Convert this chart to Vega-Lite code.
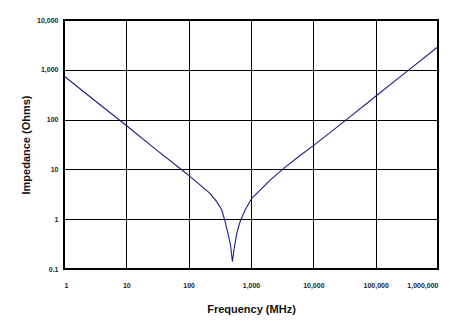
{
  "$schema": "https://vega.github.io/schema/vega-lite/v6.json",
  "autosize": "none",
  "width": 374,
  "height": 249,
  "padding": {"left": 64, "top": 20, "right": 33, "bottom": 56},
  "background": "white",
  "config": {
    "view": {"stroke": "black", "strokeWidth": 2},
    "axis": {"labelFont": "Liberation Sans", "titleFont": "Liberation Sans", "labelColor": "#222", "titleColor": "#111"}
  },
  "data": {
    "values": [
      {"f": 1, "z": 750},
      {"f": 3, "z": 250},
      {"f": 10, "z": 76},
      {"f": 30, "z": 25},
      {"f": 72.8, "z": 10.4},
      {"f": 93, "z": 8.2},
      {"f": 152, "z": 4.9},
      {"f": 220, "z": 3.3},
      {"f": 282, "z": 2.25},
      {"f": 340, "z": 1.53},
      {"f": 384, "z": 0.89},
      {"f": 434, "z": 0.48},
      {"f": 473, "z": 0.28},
      {"f": 503, "z": 0.14},
      {"f": 542, "z": 0.28},
      {"f": 591, "z": 0.52},
      {"f": 668, "z": 0.89},
      {"f": 804, "z": 1.53},
      {"f": 1030, "z": 2.63},
      {"f": 1400, "z": 3.85},
      {"f": 2027, "z": 6.1},
      {"f": 3500, "z": 11},
      {"f": 6140, "z": 19},
      {"f": 10000, "z": 30},
      {"f": 30000, "z": 88},
      {"f": 100000, "z": 295},
      {"f": 300000, "z": 880},
      {"f": 1000000, "z": 2900}
    ]
  },
  "mark": {"type": "line", "color": "#1c1c8a", "strokeWidth": 1.1, "clip": true},
  "encoding": {
    "x": {
      "field": "f", "type": "quantitative",
      "scale": {"type": "log", "domain": [1, 1000000], "nice": false},
      "axis": {
        "values": [1, 10, 100, 1000, 10000, 100000, 1000000],
        "format": ",",
        "title": "Frequency (MHz)",
        "titleFontSize": 11, "titleFontWeight": "bold", "titlePadding": 15,
        "labelFontSize": 7, "labelPadding": 12, "labelFontWeight": "bold",
        "ticks": false, "domain": false,
        "grid": true, "gridColor": "black", "gridOpacity": 1, "gridWidth": 1
      }
    },
    "y": {
      "field": "z", "type": "quantitative",
      "scale": {"type": "log", "domain": [0.1, 10000], "nice": false},
      "axis": {
        "values": [0.1, 1, 10, 100, 1000, 10000],
        "labelExpr": "datum.value < 1 ? '0.1' : format(datum.value, ',')",
        "title": "Impedance (Ohms)",
        "titleFontSize": 11, "titleFontWeight": "bold", "titlePadding": 5,
        "labelFontSize": 7, "labelPadding": 6, "labelFontWeight": "bold",
        "ticks": false, "domain": false,
        "grid": true, "gridColor": "black", "gridOpacity": 1, "gridWidth": 1
      }
    }
  }
}
